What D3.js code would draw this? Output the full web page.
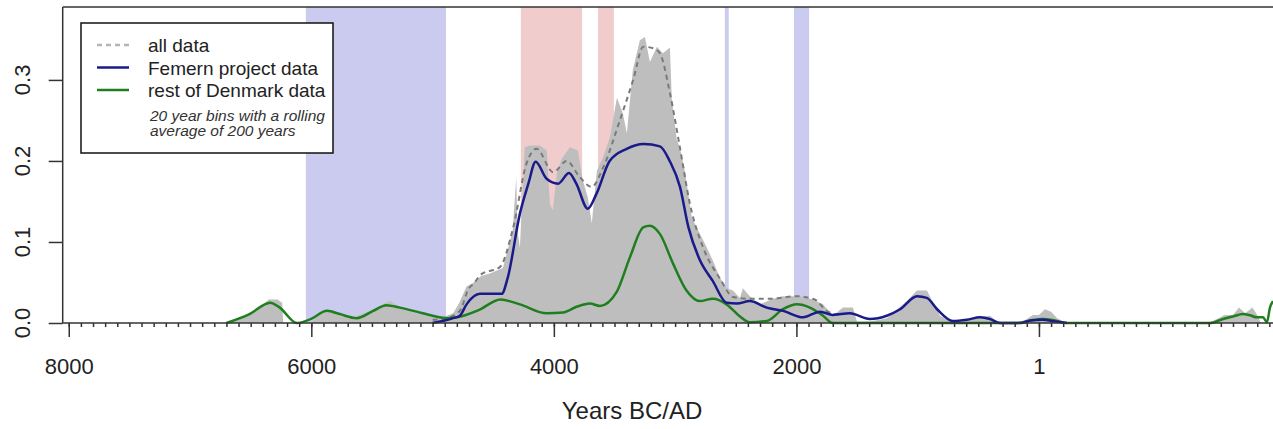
<!DOCTYPE html>
<html>
<head>
<meta charset="utf-8">
<script src="https://cdn.jsdelivr.net/npm/d3@7"></script>
<style>
  body { margin: 0; background: #fff; }
  svg { display: block; font-family: "Liberation Sans", Arial, sans-serif; }
</style>
</head>
<body>
<div id="chart"></div>
<script>
// shaded periods [from, to] in calendar years (negative = BC)
const blueBands = [[-6045, -4890], [-2590, -2558], [-2020, -1895]];
const pinkBands = [[-4272, -3767], [-3636, -3505]];

// all data, 20 year bins [year, density]
const allData = [
  [-6720, 0], [-6600, 0.004], [-6500, 0.012], [-6420, 0.02], [-6350, 0.029], [-6280, 0.029],
  [-6240, 0.025], [-6232, 0], [-6010, 0], [-5950, 0.008], [-5870, 0.016], [-5780, 0.012],
  [-5650, 0.007], [-5500, 0.016], [-5400, 0.024], [-5350, 0.027], [-5280, 0.02], [-5130, 0.014],
  [-5000, 0.009], [-4900, 0.008], [-4830, 0.012], [-4780, 0.025], [-4720, 0.045], [-4660, 0.05],
  [-4600, 0.058], [-4528, 0.061], [-4420, 0.068], [-4340, 0.114], [-4310, 0.18], [-4300, 0.114],
  [-4280, 0.093], [-4240, 0.217], [-4200, 0.219], [-4115, 0.219], [-4058, 0.213], [-4033, 0.147],
  [-4008, 0.139], [-3975, 0.185], [-3934, 0.203], [-3868, 0.217], [-3802, 0.213], [-3761, 0.176],
  [-3720, 0.155], [-3687, 0.123], [-3645, 0.188], [-3596, 0.204], [-3538, 0.229], [-3480, 0.278],
  [-3431, 0.259], [-3398, 0.234], [-3349, 0.312], [-3291, 0.349], [-3249, 0.353], [-3208, 0.322],
  [-3150, 0.341], [-3101, 0.333], [-3043, 0.34], [-3027, 0.275], [-2986, 0.226], [-2961, 0.217],
  [-2920, 0.188], [-2862, 0.13], [-2796, 0.11], [-2738, 0.093], [-2689, 0.077], [-2631, 0.056],
  [-2573, 0.043], [-2524, 0.04], [-2466, 0.031], [-2441, 0.043], [-2384, 0.033], [-2301, 0.023],
  [-2194, 0.03], [-2111, 0.033], [-1971, 0.033], [-1864, 0.029], [-1781, 0.023], [-1699, 0.009],
  [-1616, 0.019], [-1534, 0.019], [-1501, 0.002], [-1394, 0.002], [-1254, 0.006], [-1089, 0.027],
  [-1006, 0.04], [-924, 0.04], [-816, 0.009], [-709, 0], [-594, 0.003], [-487, 0.007],
  [-404, 0.009], [-330, 0], [-160, 0], [-100, 0.005], [-50, 0.01], [0, 0.01], [49, 0.017],
  [100, 0.014], [150, 0.006], [230, 0], [1400, 0], [1480, 0.006], [1530, 0.01], [1600, 0.01],
  [1650, 0.019], [1700, 0.012], [1760, 0.019], [1800, 0.01], [1830, 0], [1930, 0]
];

// all data, rolling average
const allSmooth = [
  [-5000, 0.004], [-4880, 0.006], [-4800, 0.012], [-4775, 0.015], [-4700, 0.043], [-4665, 0.048],
  [-4600, 0.06], [-4445, 0.069], [-4335, 0.118], [-4225, 0.197], [-4143, 0.215], [-4005, 0.186],
  [-3895, 0.2], [-3786, 0.18], [-3689, 0.168], [-3593, 0.192], [-3456, 0.25], [-3346, 0.3],
  [-3263, 0.341], [-3181, 0.339], [-3126, 0.333], [-3043, 0.284], [-2961, 0.217], [-2878, 0.147],
  [-2769, 0.093], [-2631, 0.055], [-2521, 0.032], [-2400, 0.03], [-2200, 0.03], [-2000, 0.033],
  [-1850, 0.029], [-1750, 0.015], [-1650, 0.01]
];

// Femern project data
const femern = [
  [-5000, 0], [-4830, 0.006], [-4775, 0.009], [-4720, 0.023], [-4610, 0.036], [-4430, 0.036],
  [-4380, 0.056], [-4280, 0.135], [-4210, 0.172], [-4150, 0.199], [-4060, 0.178], [-3965, 0.172],
  [-3875, 0.185], [-3815, 0.172], [-3720, 0.141], [-3650, 0.159], [-3540, 0.2], [-3400, 0.215],
  [-3260, 0.221], [-3125, 0.218], [-3045, 0.2], [-2960, 0.168], [-2890, 0.118], [-2800, 0.079],
  [-2690, 0.052], [-2575, 0.025], [-2490, 0.024], [-2385, 0.027], [-2245, 0.019], [-2110, 0.015],
  [-1945, 0.007], [-1805, 0.014], [-1700, 0.01], [-1560, 0.012], [-1395, 0.005], [-1255, 0.009],
  [-1145, 0.017], [-1005, 0.033], [-925, 0.031], [-840, 0.017], [-710, 0.0025], [-595, 0.004],
  [-485, 0.007], [-405, 0.005], [-320, 0], [-150, 0], [-70, 0.003], [30, 0.004], [130, 0.002],
  [230, 0]
];

// rest of Denmark data
const restDK = [
  [-6700, 0], [-6510, 0.011], [-6340, 0.025], [-6260, 0.019], [-6120, 0], [-6010, 0.0045],
  [-5870, 0.015], [-5765, 0.011], [-5625, 0.006], [-5490, 0.015], [-5380, 0.022], [-5270, 0.019],
  [-5130, 0.014], [-5000, 0.009], [-4880, 0.006], [-4800, 0.007], [-4620, 0.016], [-4440, 0.029],
  [-4280, 0.023], [-4060, 0.012], [-3923, 0.013], [-3813, 0.02], [-3703, 0.024], [-3620, 0.021],
  [-3483, 0.038], [-3373, 0.081], [-3263, 0.118], [-3208, 0.12], [-3126, 0.11], [-3016, 0.073],
  [-2906, 0.04], [-2796, 0.027], [-2689, 0.03], [-2576, 0.023], [-2480, 0.01], [-2384, 0.001],
  [-2243, 0.0025], [-2111, 0.017], [-1996, 0.023], [-1889, 0.019], [-1781, 0.009], [-1699, 0],
  [-180, 0], [-74, 0.003], [33, 0.005], [132, 0.003], [231, 0], [1410, 0], [1518, 0.005],
  [1600, 0.008], [1682, 0.011], [1740, 0.0095], [1798, 0.007], [1847, 0.007], [1880, 0.001],
  [1905, 0.019], [1930, 0.027]
];

const majorTicks = [-8000, -6000, -4000, -2000, 0];
const yTicks = [0, 0.1, 0.2, 0.3];

const W = 1273, H = 429;
const margin = {top: 7, right: 0, bottom: 106, left: 62.7};
const plotW = W - margin.left - margin.right,
  plotH = H - margin.top - margin.bottom;

const svg = d3.select("#chart").append("svg")
  .attr("width", W)
  .attr("height", H);

const x = d3.scaleLinear().domain([-8050, 1930]).range([0, plotW]);
const y = d3.scaleLinear().domain([0, 0.39]).range([plotH, 0]);

const g = svg.append("g")
  .attr("transform", "translate(" + margin.left + "," + margin.top + ")");

// shaded periods
g.selectAll("rect.blue").data(blueBands).enter().append("rect")
  .attr("x", d => x(d[0]))
  .attr("width", d => x(d[1]) - x(d[0]))
  .attr("y", 0).attr("height", plotH)
  .attr("fill", "#cbcbef");

g.selectAll("rect.pink").data(pinkBands).enter().append("rect")
  .attr("x", d => x(d[0]))
  .attr("width", d => x(d[1]) - x(d[0]))
  .attr("y", 0).attr("height", plotH)
  .attr("fill", "#f1cccc");

// all data histogram
g.append("path")
  .datum(allData)
  .attr("fill", "#bebebe")
  .attr("d", d3.area().x(d => x(d[0])).y0(y(0)).y1(d => y(d[1])));

const line = d3.line().x(d => x(d[0])).y(d => y(d[1])).curve(d3.curveMonotoneX);

g.append("path").datum(allSmooth)
  .attr("fill", "none").attr("stroke", "#7a7a7a")
  .attr("stroke-width", 2).attr("stroke-dasharray", "5,4")
  .attr("d", line);

g.append("path").datum(restDK)
  .attr("fill", "none").attr("stroke", "#1f7f1f")
  .attr("stroke-width", 2.5).attr("stroke-linejoin", "round")
  .attr("d", line);

g.append("path").datum(femern)
  .attr("fill", "none").attr("stroke", "#1a1a8a")
  .attr("stroke-width", 2.5).attr("stroke-linejoin", "round")
  .attr("d", line);

// axes
const axisCol = "#333";
const xMinor = g.append("g").attr("transform", "translate(0," + plotH + ")")
  .call(d3.axisBottom(x).tickValues(d3.range(-8000, 1931, 100)).tickSize(4).tickFormat("").tickSizeOuter(0));
const xMajor = g.append("g").attr("transform", "translate(0," + plotH + ")")
  .call(d3.axisBottom(x).tickValues(majorTicks).tickSize(14).tickPadding(21).tickSizeOuter(0)
    .tickFormat(d => d === 0 ? "1" : Math.abs(d)));
xMajor.select(".domain").remove();
xMinor.select(".domain").attr("d", "M0,0H" + plotW);

const yAxis = g.append("g")
  .call(d3.axisLeft(y).tickValues(yTicks).tickSize(14).tickFormat("").tickSizeOuter(0));
yAxis.select(".domain").attr("d", "M0," + plotH + "V0");

g.selectAll(".tick line, .domain").attr("stroke", axisCol).attr("stroke-width", 1.5);
xMajor.selectAll("text").attr("font-size", 22).attr("fill", "#222").attr("font-family", "Liberation Sans, Arial, sans-serif");

g.selectAll("text.ylab").data(yTicks).enter().append("text")
  .attr("class", "ylab")
  .attr("transform", d => "translate(-33," + y(d) + ") rotate(-90)")
  .attr("text-anchor", "middle")
  .attr("font-size", 22).attr("fill", "#222")
  .text(d => d.toFixed(1));

// top border
g.append("line").attr("x1", 0).attr("x2", plotW).attr("y1", 0).attr("y2", 0)
  .attr("stroke", axisCol).attr("stroke-width", 1.5);

svg.append("text")
  .attr("x", 632).attr("y", 419)
  .attr("text-anchor", "middle")
  .attr("font-size", 24).attr("fill", "#222")
  .text("Years BC/AD");

// legend
const leg = svg.append("g").attr("transform", "translate(81,23)");
leg.append("rect").attr("width", 252).attr("height", 130)
  .attr("fill", "#fff").attr("stroke", "#111").attr("stroke-width", 1.5);

const legItems = [
  {label: "all data", color: "#b5b5b5", dash: "5,4"},
  {label: "Femern project data", color: "#1a1a8a", dash: null},
  {label: "rest of Denmark data", color: "#1f7f1f", dash: null}
];
legItems.forEach((it, i) => {
  const yy = 22 + i * 22.5;
  leg.append("line").attr("x1", 16).attr("x2", 48).attr("y1", yy).attr("y2", yy)
    .attr("stroke", it.color).attr("stroke-width", 2.5)
    .attr("stroke-dasharray", it.dash);
  leg.append("text").attr("x", 67).attr("y", yy + 7)
    .attr("font-size", 19).attr("fill", "#222")
    .text(it.label);
});
leg.append("text").attr("x", 69).attr("y", 98)
  .attr("font-size", 15.5).attr("font-style", "italic").attr("fill", "#333")
  .text("20 year bins with a rolling");
leg.append("text").attr("x", 69).attr("y", 113)
  .attr("font-size", 15.5).attr("font-style", "italic").attr("fill", "#333")
  .text("average of 200 years");
</script>
</body>
</html>
